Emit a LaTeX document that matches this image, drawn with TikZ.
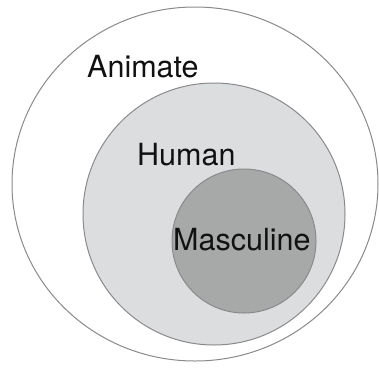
\documentclass[tikz,border=0pt]{standalone}
\usepackage{fontspec}
\setmainfont{TeX Gyre Heros}
\usetikzlibrary{shapes.geometric}
\definecolor{edgegrey}{HTML}{8A8A8C}
\definecolor{humanfill}{HTML}{DCDDDF}
\definecolor{mascfill}{HTML}{A7A9A9}
\definecolor{textcol}{HTML}{111111}
\tikzset{
  setbox/.style={draw=edgegrey, line width=1pt, inner sep=0pt, outer sep=0pt},
  lbl/.style={anchor=base west, inner sep=0pt, text=textcol, font=\fontsize{30.5}{34}\selectfont}
}
\begin{document}
\begin{tikzpicture}[x=1pt,y=-1pt]
\useasboundingbox (0,0) rectangle (379,367);
\node[setbox, ellipse, fill=white, minimum width=366pt, minimum height=354pt] (animate) at (195,184) {};
\node[setbox, circle, fill=humanfill, minimum size=262pt] (human) at (214,214) {};
\node[setbox, circle, fill=mascfill, minimum size=144pt] (masc) at (244,241) {};
\node[lbl] (tanimate) at (87,77) {Animate};
\node[lbl] (thuman) at (137,165) {Human};
\node[lbl] (tmasc) at (173,250) {Masculine};
\end{tikzpicture}
\end{document}
